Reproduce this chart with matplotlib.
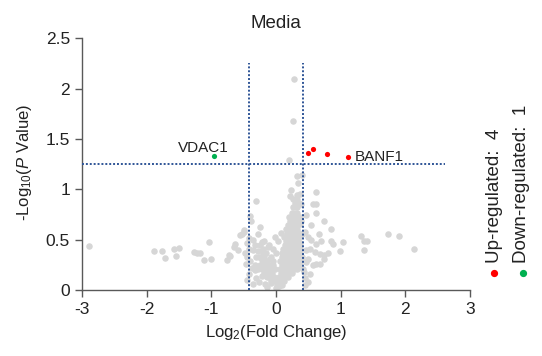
#! /usr/bin/env python3
# Volcano plot, "Media" condition: up/down regulated hits highlighted
import matplotlib

matplotlib.use("Agg")
import matplotlib.pyplot as plt
from matplotlib.lines import Line2D
from matplotlib.ticker import FuncFormatter

plt.rcParams["font.family"] = ["Liberation Sans", "DejaVu Sans"]
plt.rcParams["mathtext.fontset"] = "custom"
plt.rcParams["mathtext.rm"] = "Liberation Sans"
plt.rcParams["mathtext.it"] = "Liberation Sans:italic"
plt.rcParams["axes.unicode_minus"] = False

# --- data: (log2 fold change, -log10 p) ---
gray_points = [
    # far left / right tails
    (-2.89, 0.44), (-1.88, 0.39), (-1.76, 0.39), (-1.72, 0.32), (-1.57, 0.41),
    (-1.50, 0.42), (-1.54, 0.34), (-1.27, 0.38), (-1.22, 0.37), (-1.17, 0.37),
    (-1.11, 0.30), (-1.03, 0.48), (-1.01, 0.31), (-0.75, 0.30), (-0.71, 0.34),
    (-0.65, 0.43), (-0.63, 0.46), (-0.58, 0.40), (-0.53, 0.56), (-0.49, 0.60),
    (-0.30, 0.88), (-0.40, 0.74), (-0.38, 0.69), (-0.25, 0.63), (-0.27, 0.56),
    (-0.50, 0.58), (-0.55, 0.55), (-0.73, 0.35), (-0.22, 0.48), (-0.35, 0.40),
    (-0.12, 0.43), (-0.30, 0.33), (-0.22, 0.30), (-0.09, 0.31), (-0.375, 0.215),
    (-0.32, 0.20), (-0.17, 0.20), (-0.12, 0.17), (-0.22, 0.14), (-0.07, 0.14),
    (-0.015, 0.10), (-0.07, 0.07), (0.03, 0.07), (0.0, 0.02), (0.05, 0.04),
    (-0.45, 0.47), (-0.42, 0.52), (-0.36, 0.50), (-0.33, 0.45), (-0.28, 0.39),
    (-0.46, 0.26), (-0.41, 0.16), (-0.30, 0.12), (-0.26, 0.08), (-0.17, 0.06),
    (-0.45, 0.10), (-0.36, 0.06), (-0.13, 0.03), (-0.20, 0.36), (-0.06, 0.24),
    (0.20, 1.29), (0.26, 1.68), (0.28, 2.09), (0.33, 1.13), (0.405, 1.14),
    (0.34, 1.06), (0.24, 0.99), (0.215, 0.93), (0.32, 0.94),
    (0.625, 0.975), (0.574, 0.853), (0.625, 0.853), (0.625, 0.77), (0.47, 0.75),
    (0.743, 0.69), (0.548, 0.645), (0.846, 0.61), (0.446, 0.58), (0.497, 0.53),
    (0.548, 0.50), (0.666, 0.556), (0.70, 0.49), (0.625, 0.46), (0.846, 0.49),
    (0.88, 0.46), (1.035, 0.48), (0.985, 0.39), (1.31, 0.54), (1.37, 0.49),
    (1.41, 0.49), (1.37, 0.40), (1.73, 0.56), (1.91, 0.54), (2.13, 0.41),
    (0.52, 0.41), (0.60, 0.38), (0.68, 0.36), (0.75, 0.35), (0.80, 0.37),
    (0.497, 0.31), (0.47, 0.28), (0.574, 0.25), (0.625, 0.26), (0.68, 0.26),
    (0.75, 0.31), (0.446, 0.12), (0.42, 0.21), (0.43, 0.18), (0.45, 0.05),
    (0.38, 0.95), (0.39, 0.85), (0.37, 0.66), (0.39, 0.69), (0.40, 0.56),
    (0.38, 0.47), (0.40, 0.33), (0.46, 0.40), (0.52, 0.16), (0.49, 0.08),
    # dense core
    (0.02, 0.05), (0.06, 0.05), (0.09, 0.05),
    (0.04, 0.09), (0.08, 0.09), (0.12, 0.09), (-0.04, 0.09), (-0.08, 0.09),
    (0.05, 0.13), (0.10, 0.13), (0.14, 0.13), (0.18, 0.13), (-0.03, 0.13),
    (-0.10, 0.13), (-0.14, 0.13),
    (0.08, 0.17), (0.12, 0.17), (0.16, 0.17), (0.21, 0.17), (0.25, 0.17),
    (-0.06, 0.17), (-0.18, 0.17),
    (0.06, 0.21), (0.11, 0.21), (0.15, 0.21), (0.19, 0.21), (0.23, 0.21),
    (0.28, 0.21), (0.33, 0.21), (-0.02, 0.21), (-0.09, 0.21), (-0.15, 0.21),
    (-0.22, 0.21), (-0.28, 0.21),
    (0.09, 0.25), (0.13, 0.25), (0.18, 0.25), (0.22, 0.25), (0.26, 0.25),
    (0.30, 0.25), (0.36, 0.25), (-0.05, 0.25), (-0.12, 0.25), (-0.19, 0.25),
    (-0.25, 0.25), (-0.33, 0.25),
    (0.07, 0.29), (0.12, 0.29), (0.16, 0.29), (0.20, 0.29), (0.24, 0.29),
    (0.29, 0.29), (0.34, 0.29), (0.38, 0.29), (-0.04, 0.29), (-0.14, 0.29),
    (-0.40, 0.29),
    (0.10, 0.33), (0.14, 0.33), (0.19, 0.33), (0.23, 0.33), (0.27, 0.33),
    (0.31, 0.33), (0.35, 0.33), (-0.08, 0.33), (-0.18, 0.33), (-0.26, 0.33),
    (-0.44, 0.33),
    (0.09, 0.37), (0.15, 0.37), (0.18, 0.37), (0.22, 0.37), (0.26, 0.37),
    (0.30, 0.37), (0.34, 0.37), (0.38, 0.37), (0.0, 0.37), (-0.15, 0.37),
    (-0.47, 0.37),
    (0.11, 0.41), (0.17, 0.41), (0.21, 0.41), (0.25, 0.41), (0.29, 0.41),
    (0.33, 0.41), (0.37, 0.41), (-0.05, 0.41), (-0.20, 0.41), (-0.42, 0.41),
    (0.14, 0.45), (0.19, 0.45), (0.24, 0.45), (0.28, 0.45), (0.32, 0.45),
    (0.36, 0.45), (-0.10, 0.45), (-0.25, 0.45),
    (0.16, 0.49), (0.20, 0.49), (0.25, 0.49), (0.30, 0.49), (0.34, 0.49),
    (0.03, 0.49), (-0.18, 0.49),
    (0.13, 0.53), (0.19, 0.53), (0.23, 0.53), (0.27, 0.53), (0.31, 0.53),
    (0.35, 0.53), (-0.02, 0.53),
    (0.17, 0.57), (0.22, 0.57), (0.26, 0.57), (0.30, 0.57), (0.35, 0.57),
    (0.08, 0.57),
    (0.15, 0.61), (0.21, 0.61), (0.25, 0.61), (0.29, 0.61), (0.33, 0.61),
    (0.19, 0.65), (0.24, 0.65), (0.28, 0.65), (0.32, 0.65),
    (0.22, 0.69), (0.27, 0.69), (0.29, 0.69), (0.34, 0.69),
    (0.20, 0.73), (0.26, 0.73), (0.31, 0.73), (0.37, 0.73),
    (0.25, 0.77), (0.30, 0.77), (0.33, 0.77),
    (0.27, 0.82), (0.32, 0.82),
    (0.30, 0.86), (0.35, 0.86),
    (0.26, 0.90), (0.33, 0.90),
]
up_fc = [0.49, 0.57, 0.79, 1.11]
up_p = [1.362, 1.395, 1.349, 1.32]
up_names = ["", "", "", "BANF1"]
down_fc = [-0.95]
down_p = [1.33]
down_names = ["VDAC1"]

fc_cut = 0.42
p_cut = 1.25

gray_fc = [p[0] for p in gray_points]
gray_p = [p[1] for p in gray_points]

fig = plt.figure(figsize=(5.42, 3.56), dpi=100)
ax = fig.add_axes([0.151, 0.185, 0.716, 0.708])

ax.scatter(gray_fc, gray_p, s=22, color="#d6d6d6", linewidths=0, zorder=2)
ax.scatter(up_fc, up_p, s=14, color="#ff0000", linewidths=0, zorder=3)
ax.scatter(down_fc, down_p, s=14, color="#00b050", linewidths=0, zorder=3)

line_kw = dict(color="#2f5597", linestyle=(0, (1, 1)), linewidth=1.4, zorder=4)
ax.plot([-3, 2.62], [p_cut, p_cut], **line_kw)
ax.plot([-fc_cut, -fc_cut], [0, 2.25], **line_kw)
ax.plot([fc_cut, fc_cut], [0, 2.25], **line_kw)

ax.text(-1.52, 1.372, down_names[0], fontsize=11, va="baseline", ha="left", color="#222222")
ax.text(1.22, 1.283, up_names[3], fontsize=11, va="baseline", ha="left", color="#222222")

ax.set_xlim(-3, 3)
ax.set_ylim(0, 2.5)
ax.set_xticks([-3, -2, -1, 0, 1, 2, 3])
ax.set_yticks([0, 0.5, 1, 1.5, 2, 2.5])
ax.yaxis.set_major_formatter(FuncFormatter(lambda v, _: f"{v:g}"))
for side in ("top", "right"):
    ax.spines[side].set_visible(False)
for side in ("left", "bottom"):
    ax.spines[side].set_color("#595959")
    ax.spines[side].set_linewidth(1.0)
ax.tick_params(direction="out", length=5, width=1.0, color="#595959",
               labelsize=12.5, labelcolor="#222222")

ax.set_xlabel(r"Log$_2$(Fold Change)", fontsize=12, color="#222222", labelpad=4)
fig.text(0.046, 0.545, r"-Log$_{10}$($\it{P}$ Value)", rotation=90,
         ha="center", va="center", fontsize=12, color="#222222")
fig.text(0.509, 0.921, "Media", ha="center", va="baseline", fontsize=13.5, color="#222222")

# legend-like labels on the right
fig.text(0.913, 0.261, f"Up-regulated:  {len(up_fc)}", rotation=90,
         ha="center", va="bottom", fontsize=13.5, color="#222222")
fig.text(0.9625, 0.261, f"Down-regulated:  {len(down_fc)}", rotation=90,
         ha="center", va="bottom", fontsize=13.5, color="#222222")
fig.add_artist(Line2D([0.911], [0.234], marker="o", markersize=4.2, color="#ff0000",
                      linestyle="none", transform=fig.transFigure))
fig.add_artist(Line2D([0.965], [0.234], marker="o", markersize=4.2, color="#00b050",
                      linestyle="none", transform=fig.transFigure))

fig.savefig("out.png", dpi=100)
